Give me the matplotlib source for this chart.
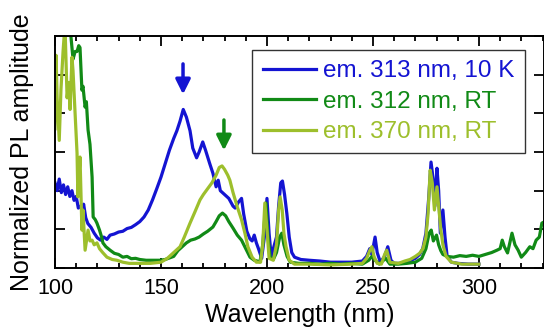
import matplotlib
matplotlib.use("Agg")
import matplotlib.pyplot as plt
from matplotlib.ticker import MultipleLocator, NullFormatter

plt.rcParams['font.family'] = ['Liberation Sans', 'DejaVu Sans']

# ---- data ----
blue_x = [100, 101, 102, 103, 104, 105, 106, 107, 108, 109, 110, 111, 112, 113, 113.5, 114.5,
          115.5, 117, 118.5, 120, 121.5, 123, 124.5, 126, 128, 130, 132, 134, 136, 138, 140,
          142, 144, 146, 148, 150, 152, 154, 156, 157.5, 159, 160.5, 162, 163.7, 165, 166.8,
          168, 169.7, 171, 173, 174.5, 176, 177, 178, 180, 182, 184, 185, 186.5, 188, 189,
          190.5, 192, 193, 194, 195, 196, 197.5, 199, 200, 201, 202, 203, 204.5, 205.5, 206.5,
          207.3, 208.3, 209.4, 210.5, 211.7, 213, 216, 220, 225, 230, 235, 240, 245, 247,
          248.5, 249.5, 251, 252, 253.5, 255.5, 257, 258.5, 260, 263, 266, 268, 270, 272,
          273.5, 275, 276.3, 277.4, 278.4, 279.2, 280.2, 281, 281.8, 283, 284, 285, 287, 290,
          295, 300]
blue_y = [2.2, 2.0, 2.3, 1.95, 2.15, 1.9, 2.1, 1.85, 2.0, 1.75, 1.85, 1.55, 1.6, 1.5, 1.65, 1.3,
          1.15, 1.05, 0.9, 0.78, 0.72, 0.8, 0.74, 0.85, 0.88, 0.93, 0.95, 1.02, 1.05, 1.12, 1.2,
          1.32, 1.5, 1.76, 2.05, 2.35, 2.7, 3.05, 3.35, 3.55, 3.8, 4.1, 3.9, 3.55, 3.1, 2.85,
          3.0, 3.26, 3.05, 2.7, 2.45, 2.1, 2.27, 2.0, 1.9, 1.8, 1.6, 1.55, 1.7, 1.8, 1.4,
          0.95, 0.75, 0.7, 0.85, 0.65, 0.5, 0.25, 0.9, 1.8, 0.9, 0.3, 0.5, 0.8, 1.6, 2.2,
          2.25, 1.9, 1.4, 0.8, 0.4, 0.28, 0.22, 0.2, 0.18, 0.15, 0.15, 0.15, 0.18, 0.3,
          0.5, 0.35, 0.8, 0.4, 0.15, 0.3, 0.55, 0.2, 0.12, 0.12, 0.15, 0.2, 0.25, 0.35,
          0.5, 0.9, 1.8, 2.74, 2.3, 1.6, 2.58, 2.0, 0.9, 1.5, 0.8, 0.3, 0.15, 0.12,
          0.1, 0.1]

dgreen_x = [106, 107, 108.5, 109.5, 110.4, 111.2, 111.8, 112.7, 113.2, 114.2, 114.8, 115.6, 116.5,
            117.5, 118, 119, 119.8, 121, 122, 122.6, 124, 126, 128, 130, 132, 134, 136, 138,
            140, 143, 146, 149.5, 152, 154, 156, 158, 160, 162, 164, 166, 168, 170, 172, 174.5,
            176, 177.5, 179, 180.5, 182, 184, 186, 188, 190, 192, 194, 196.7, 198, 199.5, 200.5,
            201.5, 203, 204.5, 206, 207, 208, 209.5, 211, 215, 220, 225, 230, 235, 240, 245,
            248, 249.5, 251, 253, 256, 258, 262, 266, 270, 273, 275, 276.5, 277.5, 278.5, 280,
            281, 282, 283, 285, 288, 291, 294, 297, 300, 303, 306, 308.5, 310, 311, 312, 313.5,
            315.6, 317, 318.5, 320, 322, 324, 325.5, 327, 328.5, 329.7, 331]
dgreen_y = [6.6, 6.3, 5.4, 5.6, 5.6, 5.75, 5.7, 4.6, 4.7, 4.16, 4.3, 3.57, 3.2,
            2.35, 1.32, 1.25, 1.16, 0.98, 0.8, 0.65, 0.55, 0.46, 0.38, 0.35, 0.28, 0.3, 0.24, 0.25,
            0.22, 0.2, 0.2, 0.2, 0.22, 0.26, 0.3, 0.45, 0.55, 0.65, 0.72, 0.75, 0.8, 0.88, 0.95, 1.06,
            1.2, 1.35, 1.42, 1.35, 1.2, 1.03, 0.85, 0.72, 0.5, 0.28, 0.2, 0.16, 0.6, 1.68, 0.8,
            0.28, 0.22, 0.4, 0.8, 0.9, 0.6, 0.3, 0.15, 0.12, 0.12, 0.1, 0.12, 0.1, 0.12, 0.1,
            0.2, 0.3, 0.2, 0.1, 0.25, 0.1, 0.1, 0.12, 0.15, 0.25, 0.5, 0.9, 0.98, 0.7, 0.85,
            0.6, 0.45, 0.35, 0.3, 0.28, 0.32, 0.3, 0.33, 0.3, 0.35, 0.4, 0.46, 0.5, 0.72, 0.55, 0.39,
            0.9, 0.6, 0.46, 0.28, 0.4, 0.55, 0.5, 0.72, 0.8, 1.16, 1.2]

lgreen_x = [100, 100.5, 101, 102, 102.8, 103.8, 104.7, 105.7, 106.5, 107.1, 108, 108.5, 109.3,
            110.4, 110.8, 111.8, 112.7, 113.2, 114.2, 115.6, 116.5, 117.5, 118.5, 119.8, 121,
            122.5, 124.5, 127, 129.2, 132, 135, 140, 145, 150, 153, 155, 157, 159, 161, 163.7,
            166, 168.4, 170, 172, 174, 176, 177.5, 178.8, 180, 181.5, 182.5, 184, 186, 188,
            189.6, 191, 193, 195, 197, 198, 199, 200, 201, 203, 204.5, 205.5, 206.2, 207.2, 208,
            209, 210.5, 213, 220, 230, 240, 245, 247, 248.5, 249.5, 250.5, 252, 254, 255.5,
            256.5, 258, 262, 265, 267.5, 270, 272, 273.6, 275, 276, 277, 278, 279, 280.2, 281,
            282, 283, 284.5, 287, 292, 300]
lgreen_y = [3.6, 5.5, 4.4, 3.3, 4.6, 5.6, 6.3, 4.4, 4.8, 4.1, 5.45, 5.1, 4.2,
            2.97, 1.84, 2.87, 0.98, 1.5, 0.46, 0.98, 0.7, 0.72, 0.6, 0.65, 0.5,
            0.4, 0.28, 0.22, 0.2, 0.15, 0.12, 0.12, 0.12, 0.15, 0.25, 0.35, 0.45, 0.55, 0.8, 1.16,
            1.45, 1.76, 1.9, 2.05, 2.2, 2.4, 2.6, 2.64, 2.55, 2.4, 2.27, 1.95, 1.58, 1.25,
            0.9, 0.55, 0.28, 0.15, 0.15, 0.6, 1.68, 1.0, 0.25, 0.2, 0.6, 1.5, 1.84, 1.5, 0.9,
            0.55, 0.2, 0.1, 0.1, 0.08, 0.1, 0.12, 0.25, 0.45, 0.55, 0.3, 0.12, 0.1, 0.35,
            0.46, 0.15, 0.12, 0.18, 0.22, 0.3, 0.38, 0.5, 0.8, 1.4, 2.53, 2.2, 1.5, 2.1, 1.6,
            1.0, 0.6, 0.3, 0.15, 0.1, 0.1]

labels = ["em. 313 nm, 10 K", "em. 312 nm, RT", "em. 370 nm, RT"]
arrow_x = [160.4, 179.7]

blue = "#1414d2"
dgreen = "#118a16"
lgreen = "#9dbf2c"

fig = plt.figure(figsize=(5.44, 3.29), dpi=100)
ax = fig.add_axes([55 / 544, 1 - 268 / 329, 489 / 544, 232 / 329])

l1, = ax.plot(blue_x, blue_y, color=blue, lw=2.3, label=labels[0])
l2, = ax.plot(dgreen_x, dgreen_y, color=dgreen, lw=2.3, label=labels[1])
l3, = ax.plot(lgreen_x, lgreen_y, color=lgreen, lw=2.3, label=labels[2])

ax.annotate("", xy=(arrow_x[0], 4.42), xytext=(arrow_x[0], 5.35),
            arrowprops=dict(arrowstyle="-|>", color=blue, lw=2.5, mutation_scale=22))
ax.annotate("", xy=(arrow_x[1], 2.97), xytext=(arrow_x[1], 3.9),
            arrowprops=dict(arrowstyle="-|>", color=dgreen, lw=2.5, mutation_scale=22))

ax.set_xlim(100, 330.7)
ax.set_ylim(0, 6)
ax.xaxis.set_major_locator(MultipleLocator(50))
ax.xaxis.set_minor_locator(MultipleLocator(10))
ax.yaxis.set_major_locator(MultipleLocator(1))
ax.yaxis.set_major_formatter(NullFormatter())
ax.tick_params(which="both", direction="in", top=True, right=True, width=1.3)
ax.tick_params(which="major", length=7, labelsize=15.5, pad=7)
ax.tick_params(which="minor", length=3.5)
for s in ax.spines.values():
    s.set_linewidth(1.4)

ax.set_xlabel("Wavelength (nm)", fontsize=18, labelpad=3)
ax.set_ylabel("Normalized PL amplitude", fontsize=18, labelpad=8)

leg = ax.legend(handles=[l1, l2, l3], loc="upper right", bbox_to_anchor=(0.961, 0.94),
                borderaxespad=0, fontsize=17.5, frameon=True, fancybox=False,
                edgecolor="black", handlelength=2.2, handletextpad=0.3,
                labelspacing=0.35, borderpad=0.42)
leg.get_frame().set_linewidth(1.0)
for txt, c in zip(leg.get_texts(), [blue, dgreen, lgreen]):
    txt.set_color(c)

fig.savefig("out.png", dpi=100)
